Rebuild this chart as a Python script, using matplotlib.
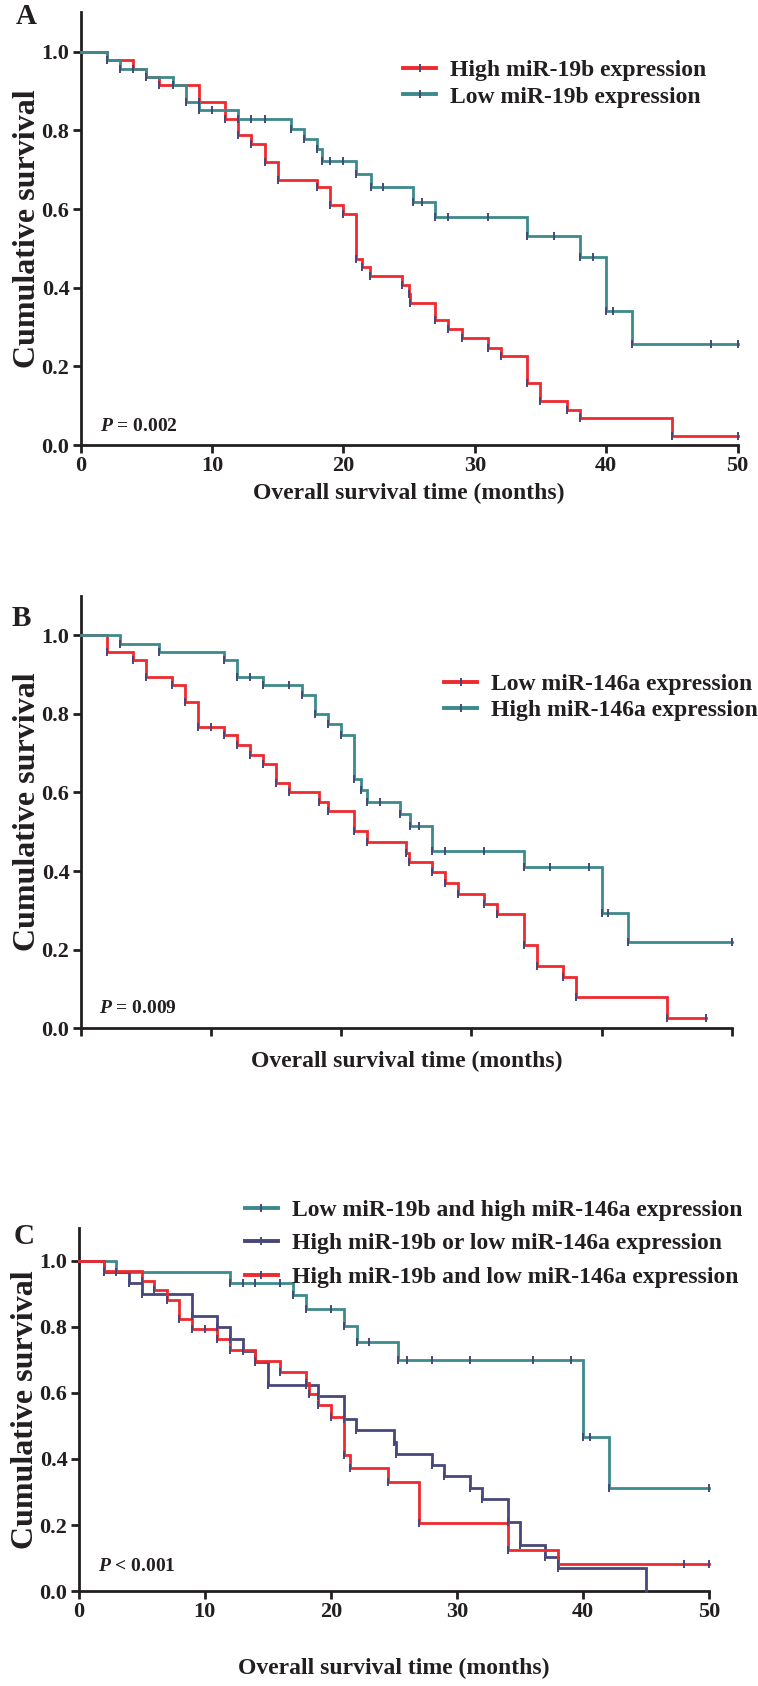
import numpy as np
import matplotlib
matplotlib.use("Agg")
from matplotlib import pyplot as plt
from matplotlib.lines import Line2D

plt.rcParams['font.family'] = ['Liberation Serif', 'DejaVu Serif']
plt.rcParams['font.weight'] = 'bold'
plt.rcParams['mathtext.fontset'] = 'custom'
plt.rcParams['mathtext.it'] = 'Liberation Serif:italic:bold'
plt.rcParams['mathtext.rm'] = 'Liberation Serif:bold'

RED = '#ee2a2f'
TEAL = '#3d8a8c'
NAVY = '#47477a'
INK = '#231f20'

# ---- panel A ----
a_high_t = [0, 2, 4, 5, 6, 9, 11, 12, 13, 14, 15, 18, 19, 20, 21, 21.4, 22, 24.5, 25, 25.1,
            27, 28, 29, 31, 32, 34, 35, 37, 38, 45, 50]
a_high_s = [1.0, 0.979, 0.957, 0.936, 0.915, 0.872, 0.83, 0.787, 0.765, 0.72, 0.675, 0.655,
            0.61, 0.588, 0.474, 0.453, 0.43, 0.407, 0.384, 0.362, 0.317, 0.294, 0.271, 0.248,
            0.226, 0.158, 0.113, 0.09, 0.068, 0.023, 0.023]
a_high_c = [50]
a_low_t = [0, 2, 3, 5, 7, 8, 9, 12, 16, 17, 18, 18.4, 21, 22.1, 25.3, 27, 34, 38, 40, 42, 50]
a_low_s = [1.0, 0.979, 0.957, 0.936, 0.915, 0.872, 0.851, 0.83, 0.803, 0.777, 0.752, 0.722,
           0.688, 0.655, 0.618, 0.58, 0.532, 0.477, 0.342, 0.256, 0.256]
a_low_c = [10, 13, 14, 19, 20, 23, 26, 28, 31, 36, 39, 40.5, 48, 50]

# ---- panel B ----
b_low_t = [0, 2, 4, 5, 7, 8, 9, 11, 12, 13, 14, 15, 16, 18.3, 19, 21, 22, 25, 25.2, 27, 28,
           29, 31, 32, 34, 35, 37, 38, 45, 48]
b_low_s = [1.0, 0.957, 0.936, 0.894, 0.872, 0.83, 0.766, 0.745, 0.72, 0.694, 0.672, 0.623,
           0.6, 0.576, 0.553, 0.502, 0.475, 0.447, 0.422, 0.397, 0.369, 0.343, 0.317, 0.29,
           0.211, 0.158, 0.132, 0.079, 0.026, 0.026]
b_low_c = [10, 48]
b_high_t = [0, 3, 6, 11, 12, 14, 17, 18, 19, 20, 21, 21.5, 22, 24.5, 25.3, 27, 34, 40, 42, 50]
b_high_s = [1.0, 0.978, 0.957, 0.936, 0.894, 0.872, 0.847, 0.8, 0.774, 0.747, 0.633, 0.605,
            0.576, 0.545, 0.515, 0.45, 0.41, 0.293, 0.22, 0.22]
b_high_c = [13, 16, 23, 26, 28, 31, 36, 39, 40.5, 50]

# ---- panel C ----
c_lowhigh_t = [0, 3, 12, 17, 18, 21, 22.1, 25.3, 40, 42, 50]
c_lowhigh_s = [1.0, 0.966, 0.933, 0.896, 0.855, 0.804, 0.754, 0.70, 0.466, 0.311, 0.311]
c_lowhigh_c = [13, 14, 16, 20, 23, 26, 28, 31, 36, 39, 40.5, 50]
c_or_t = [0, 2, 4, 5, 9, 11, 12, 13, 14, 15, 19, 21, 22, 25, 25.15, 28, 29, 31, 32, 34, 35,
          37, 38, 45]
c_or_s = [1.0, 0.966, 0.932, 0.898, 0.832, 0.798, 0.763, 0.728, 0.693, 0.624, 0.592, 0.52,
          0.487, 0.452, 0.416, 0.381, 0.347, 0.312, 0.278, 0.208, 0.139, 0.104, 0.069, 0.0]
c_or_c = [18]
c_and_t = [0, 2, 5, 6, 7, 8, 9, 11, 12, 14, 16, 18, 18.3, 19, 20, 21, 21.5, 24.5, 27, 34, 38, 50]
c_and_s = [1.0, 0.97, 0.94, 0.911, 0.882, 0.824, 0.794, 0.764, 0.73, 0.697, 0.663, 0.631,
           0.597, 0.563, 0.526, 0.412, 0.372, 0.33, 0.207, 0.124, 0.082, 0.082]
c_and_c = [10, 48, 50]


def km(ax, t, s, cens, color):
    t = np.asarray(t, float)
    s = np.asarray(s, float)
    ax.step(t, s, where='post', color=color, lw=2.0, clip_on=False, zorder=3,
            solid_joinstyle='miter')
    # ticks at every step and at the censored times
    ax.plot(t[1:-1], s[1:-1], ls='none', marker='|', ms=6, mew=1.4, color=NAVY,
            clip_on=False, zorder=4)
    cy = s[np.searchsorted(t, cens, side='right') - 1]
    ax.plot(cens, cy, ls='none', marker='|', ms=6, mew=1.4, color=NAVY,
            clip_on=False, zorder=4)
    return (Line2D([], [], color=color, lw=2.8),
            Line2D([], [], ls='none', marker='|', ms=6, mew=1.4, color=NAVY))


def style(ax, ticklabels=True):
    ax.set_xlim(0, 50)
    ax.set_ylim(0, 1.1)
    for side in ['top', 'right']:
        ax.spines[side].set_visible(False)
    for side in ['left', 'bottom']:
        ax.spines[side].set_linewidth(2.0)
        ax.spines[side].set_color(INK)
    ax.set_xticks([0, 10, 20, 30, 40, 50])
    ax.set_yticks([0, 0.2, 0.4, 0.6, 0.8, 1.0])
    ax.set_yticklabels(['0.0', '0.2', '0.4', '0.6', '0.8', '1.0'])
    if not ticklabels:
        ax.set_xticklabels([])
    ax.tick_params(direction='out', length=6, width=2.0, color=INK, labelcolor=INK,
                   labelsize=16, pad=2)
    for lab in ax.get_xticklabels() + ax.get_yticklabels():
        lab.set_fontweight('bold')
    ax.set_ylabel('Cumulative survival', fontsize=23, fontweight='bold', color=INK,
                  labelpad=0)


fig = plt.figure(figsize=(7.58, 16.86), dpi=100)

# A
axA = fig.add_axes([0.1063, 0.736, 0.8667, 0.2567])
hA1 = km(axA, a_high_t, a_high_s, a_high_c, RED)
hA2 = km(axA, a_low_t, a_low_s, a_low_c, TEAL)
style(axA)
axA.set_xlabel('Overall survival time (months)', fontsize=17, fontweight='bold', color=INK,
               labelpad=5)
axA.text(1.5, 0.048, r'$P$ = 0.002', fontsize=14, color=INK, va='center')
axA.legend([hA1, hA2], ['High miR-19b expression', 'Low miR-19b expression'],
           loc='upper left', bbox_to_anchor=(0.532, 0.9645), bbox_transform=fig.transFigure,
           frameon=False, fontsize=17, handlelength=1.4, handletextpad=0.6,
           labelspacing=0.2, borderpad=0, borderaxespad=0, labelcolor=INK)
fig.text(0.021, 0.9905, 'A', fontsize=21, fontweight='bold', color=INK, va='center')

# B
axB = fig.add_axes([0.1063, 0.390, 0.8594, 0.2567])
hB1 = km(axB, b_low_t, b_low_s, b_low_c, RED)
hB2 = km(axB, b_high_t, b_high_s, b_high_c, TEAL)
style(axB, ticklabels=False)
axB.set_xlabel('Overall survival time (months)', fontsize=17, fontweight='bold', color=INK,
               labelpad=8)
axB.text(1.4, 0.052, r'$P$ = 0.009', fontsize=14, color=INK, va='center')
axB.legend([hB1, hB2], ['Low miR-146a expression', 'High miR-146a expression'],
           loc='upper left', bbox_to_anchor=(0.586, 0.6005), bbox_transform=fig.transFigure,
           frameon=False, fontsize=17, handlelength=1.4, handletextpad=0.6,
           labelspacing=0.2, borderpad=0, borderaxespad=0, labelcolor=INK)
fig.text(0.015, 0.633, 'B', fontsize=21, fontweight='bold', color=INK, va='center')

# C
axC = fig.add_axes([0.1036, 0.0563, 0.8324, 0.2155])
hC1 = km(axC, c_lowhigh_t, c_lowhigh_s, c_lowhigh_c, TEAL)
hC2 = km(axC, c_or_t, c_or_s, c_or_c, NAVY)
hC3 = km(axC, c_and_t, c_and_s, c_and_c, RED)
style(axC)
axC.set_xlabel('Overall survival time (months)', fontsize=17, fontweight='bold', color=INK,
               labelpad=26)
axC.text(1.55, 0.074, r'$P$ < 0.001', fontsize=14, color=INK, va='center')
axC.legend([hC1, hC2, hC3],
           ['Low miR-19b and high miR-146a expression',
            'High miR-19b or low miR-146a expression',
            'High miR-19b and low miR-146a expression'],
           loc='upper left', bbox_to_anchor=(0.323, 0.2885), bbox_transform=fig.transFigure,
           frameon=False, fontsize=17, handlelength=1.4, handletextpad=0.6,
           labelspacing=0.5, borderpad=0, borderaxespad=0, labelcolor=INK)
fig.text(0.018, 0.2665, 'C', fontsize=21, fontweight='bold', color=INK, va='center')

fig.savefig('out.png', dpi=100)
